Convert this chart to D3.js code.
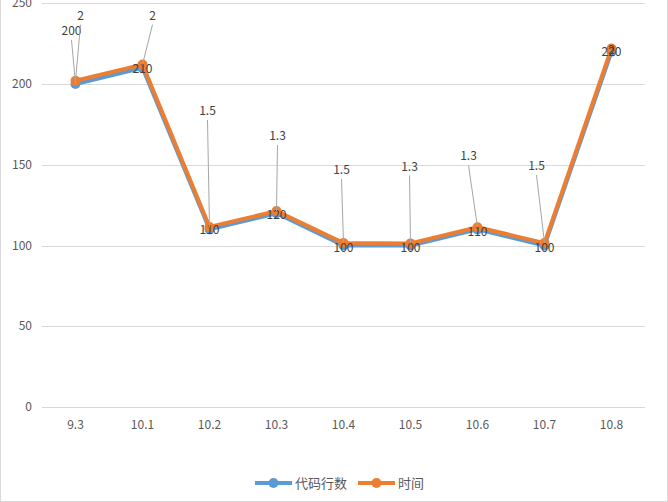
<!DOCTYPE html>
<html><head><meta charset="utf-8">
<script src="https://cdn.jsdelivr.net/npm/d3@7"></script>
<style>body{margin:0;background:#fff}svg{display:block}</style>
</head><body><svg id="c" width="668" height="502"></svg>
<script>
const categories = ["9.3","10.1","10.2","10.3","10.4","10.5","10.6","10.7","10.8"];
const linesOfCode = [200,210,110,120,100,100,110,100,220];
const timeValues = [2,2,1.5,1.3,1.5,1.3,1.3,1.5,2];
const yTicks = [0,50,100,150,200,250];
const seriesNames = ["代码行数","时间"];
// label layout offsets (px) relative to point
const timeLabelOffsets = [[5,-65],[10,-49],[-2,-116],[1,-75],[-2,-73],[-1,-77],[-9,-71],[-8,-77],[0,1]];
const locLabelOffsets = [[-4,-53],[0,1],[0,0],[0,2],[0,2],[0,2],[0,2],[0,2],[0,0]];

const svg = d3.select("#c");
const font = "'Noto Sans CJK SC','Noto Sans',sans-serif";
const colors = ["#5B9BD5","#ED7D31"];
svg.append("rect").attr("x",0.5).attr("y",-1).attr("width",667).attr("height",502.5)
  .attr("fill","#fff").attr("stroke","#d9d9d9");

const x = d3.scaleBand().domain(categories).range([42,645]);
const y = d3.scaleLinear().domain([0,250]).range([407,3.25]);
const cx = d => x(d)+x.bandwidth()/2;

const g = svg.append("g");
g.selectAll("line.grid").data(yTicks).join("line")
  .attr("x1",42).attr("x2",645).attr("y1",d=>Math.round(y(d))+0.5).attr("y2",d=>Math.round(y(d))+0.5)
  .attr("stroke","#d9d9d9").attr("stroke-width",1);
g.selectAll("text.yt").data(yTicks).join("text")
  .attr("x",32).attr("y",d=>y(d)).attr("dy","0.35em").attr("text-anchor","end")
  .attr("font-family",font).attr("font-size",12).attr("fill","#595959").text(d=>d);
g.selectAll("text.xt").data(categories).join("text")
  .attr("x",cx).attr("y",425).attr("dy","0.35em").attr("text-anchor","middle")
  .attr("font-family",font).attr("font-size",12).attr("fill","#595959").text(d=>d);

const stacked = linesOfCode.map((v,i)=>v+timeValues[i]);
const line = d3.line().x((d,i)=>cx(categories[i])).y(d=>y(d));
const seriesData = [linesOfCode, stacked];
seriesData.forEach((s,k)=>{
  g.append("path").attr("d",line(s)).attr("fill","none").attr("stroke",colors[k])
    .attr("stroke-width",4).attr("stroke-linejoin","round").attr("stroke-linecap","round");
  g.selectAll(null).data(s).join("circle")
    .attr("cx",(d,i)=>cx(categories[i])).attr("cy",d=>y(d)).attr("r",5).attr("fill",colors[k]);
});

function labels(vals, plotVals, offs){
  vals.forEach((v,i)=>{
    const px = cx(categories[i]), py = y(plotVals[i]);
    const [dx,dy] = offs[i];
    const lx = px+dx, ly = py+dy;
    if (Math.abs(dy) > 20) {
      g.append("line").attr("x1",px).attr("y1",py).attr("x2",lx).attr("y2",ly+9)
        .attr("stroke","#a6a6a6").attr("stroke-width",1);
    }
    g.append("text").attr("x",lx).attr("y",ly).attr("dy","0.35em").attr("text-anchor","middle")
      .attr("font-family",font).attr("font-size",12).attr("fill","#404040").text(v);
  });
}
labels(linesOfCode, linesOfCode, locLabelOffsets);
labels(timeValues, stacked, timeLabelOffsets);

// legend
const leg = svg.append("g").attr("transform","translate(0,483)");
const legX = [255,358];
seriesNames.forEach((n,k)=>{
  leg.append("line").attr("x1",legX[k]).attr("x2",legX[k]+37).attr("y1",0).attr("y2",0)
    .attr("stroke",colors[k]).attr("stroke-width",4);
  leg.append("circle").attr("cx",legX[k]+18.5).attr("cy",0).attr("r",5).attr("fill",colors[k]);
  leg.append("text").attr("x",legX[k]+40).attr("y",0).attr("dy","0.35em")
    .attr("font-family",font).attr("font-size",13).attr("fill","#595959").text(n);
});
</script></body></html>
